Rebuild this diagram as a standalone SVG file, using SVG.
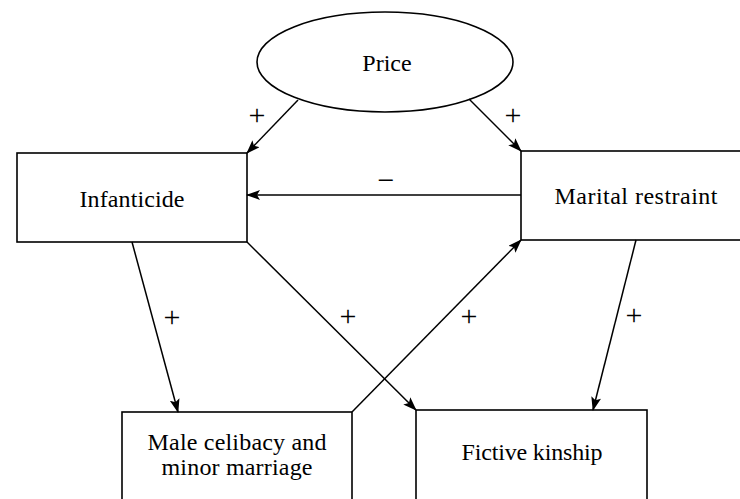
<svg xmlns="http://www.w3.org/2000/svg" width="740" height="499" viewBox="0 0 740 499">
  <style>
    .node { fill: #fff; stroke: #000; stroke-width: 1.6; }
    .label { font-family: "Liberation Serif", "Times New Roman", serif; font-size: 24px; fill: #000; text-anchor: middle; }
    .sign { font-family: "Liberation Serif", "Times New Roman", serif; font-size: 30px; fill: #000; text-anchor: middle; }
    .edge { fill: none; stroke: #000; stroke-width: 1.5; marker-end: url(#arrow); }
  </style>
  <defs>
    <marker id="arrow" markerUnits="userSpaceOnUse" markerWidth="14" markerHeight="10" refX="13" refY="5" orient="auto">
      <path d="M0,0 L14,5 L0,10 L3,5 Z" fill="#000"/>
    </marker>
  </defs>
  <rect width="740" height="499" fill="#fff"/>

  <g id="price">
    <ellipse class="node" cx="385" cy="62" rx="128" ry="50"/>
    <text class="label" x="387" y="71">Price</text>
  </g>

  <g id="infanticide">
    <rect class="node" x="17" y="153" width="230" height="89"/>
    <text class="label" x="132" y="207" textLength="105" lengthAdjust="spacing">Infanticide</text>
  </g>

  <g id="marital-restraint">
    <rect class="node" x="521" y="151" width="230" height="89"/>
    <text class="label" x="636" y="204" textLength="163" lengthAdjust="spacing">Marital restraint</text>
  </g>

  <g id="male-celibacy">
    <rect class="node" x="122" y="412" width="230" height="100"/>
    <text class="label" x="237" y="450" textLength="179" lengthAdjust="spacing">Male celibacy and</text>
    <text class="label" x="237" y="475" textLength="151" lengthAdjust="spacing">minor marriage</text>
  </g>

  <g id="fictive-kinship">
    <rect class="node" x="416" y="410" width="231" height="100"/>
    <text class="label" x="532" y="460" textLength="141" lengthAdjust="spacing">Fictive kinship</text>
  </g>

  <g id="connectors">
    <line class="edge" x1="298" y1="100" x2="247" y2="153"/>
    <line class="edge" x1="469" y1="99" x2="521" y2="151"/>
    <line class="edge" x1="521" y1="195" x2="247" y2="195"/>
    <line class="edge" x1="132" y1="242" x2="178" y2="412"/>
    <line class="edge" x1="247" y1="242" x2="416" y2="410"/>
    <line class="edge" x1="352" y1="412" x2="521" y2="240"/>
    <line class="edge" x1="636" y1="240" x2="593" y2="410"/>

    <text class="sign" x="257" y="125">+</text>
    <text class="sign" x="513" y="125">+</text>
    <text class="sign" x="386" y="190">−</text>
    <text class="sign" x="172" y="327">+</text>
    <text class="sign" x="348" y="326">+</text>
    <text class="sign" x="469" y="326">+</text>
    <text class="sign" x="634" y="325">+</text>
  </g>
</svg>
